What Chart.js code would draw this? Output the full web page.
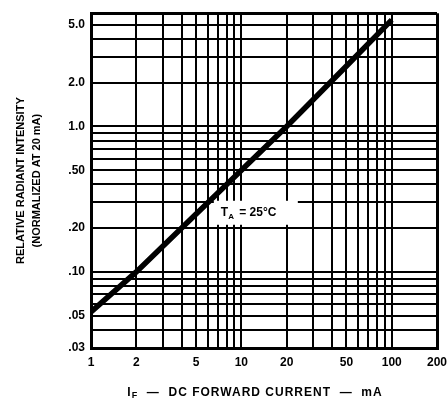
<!DOCTYPE html>
<html>
<head>
<meta charset="utf-8">
<script src="https://cdn.jsdelivr.net/npm/chart.js@4.4.1/dist/chart.umd.min.js"></script>
<style>
  html, body { margin: 0; padding: 0; background: #fff; }
  #wrap { width: 447px; height: 410px; }
</style>
</head>
<body>
<div id="wrap"><canvas id="chart" width="447" height="410"></canvas></div>
<script>
// data
const currentMA = [1, 2, 5, 10, 20, 50, 100];
const intensity = [0.053, 0.1, 0.25, 0.5, 1.0, 2.6, 5.4];

// tick labels and grid lines
const xLabelVals = [1, 2, 5, 10, 20, 50, 100, 200];
const yLabelVals = [0.03, 0.05, 0.1, 0.2, 0.5, 1, 2, 5];
const yLabelText = [".03", ".05", ".10", ".20", ".50", "1.0", "2.0", "5.0"];
const xGrid = [1, 2, 3, 4, 5, 6, 7, 8, 9, 10, 20, 30, 40, 50, 60, 70, 80, 90, 100, 200];
const yGrid = [0.03, 0.04, 0.05, 0.06, 0.07, 0.08, 0.09, 0.1, 0.2, 0.3, 0.4, 0.5, 0.6, 0.7, 0.8, 0.9, 1, 2, 3, 4, 5, 6];

const FONT = "'Liberation Sans', Arial, sans-serif";

const bgPlugin = {
  id: "bg",
  beforeDraw(chart) {
    const c = chart.ctx;
    c.save();
    c.fillStyle = "#fff";
    c.fillRect(0, 0, chart.width, chart.height);
    c.restore();
  },
};

const textPlugin = {
  id: "texts",
  afterDatasetsDraw(chart) {
    const c = chart.ctx;
    const xs = chart.scales.x, ys = chart.scales.y;
    c.save();
    // annotation box
    const ax = xs.getPixelForValue(7.3), ay = ys.getPixelForValue(0.255);
    c.fillStyle = "#fff";
    c.fillRect(ax - 7, ay - 12, 84, 24);
    c.fillStyle = "#000";
    c.textBaseline = "middle";
    c.font = "bold 12px " + FONT;
    c.fillText("T", ax, ay);
    let w = c.measureText("T").width;
    c.font = "bold 8px " + FONT;
    c.fillText("A", ax + w, ay + 4);
    w += c.measureText("A").width + 2;
    c.font = "bold 12px " + FONT;
    c.fillText(" = 25°C", ax + w, ay);

    // x axis title with subscript
    const ty = 393;
    c.letterSpacing = "1px";
    c.font = "bold 12px " + FONT;
    const rest = "  —  DC FORWARD CURRENT  —  mA";
    const wI = c.measureText("I").width;
    c.font = "bold 9px " + FONT;
    const wF = c.measureText("F").width;
    c.font = "bold 12px " + FONT;
    const wRest = c.measureText(rest).width;
    let x0 = 255 - (wI + wF + wRest) / 2;
    c.textAlign = "left";
    c.fillText("I", x0, ty);
    c.font = "bold 9px " + FONT;
    c.fillText("F", x0 + wI, ty + 3);
    c.font = "bold 12px " + FONT;
    c.fillText(rest, x0 + wI + wF, ty);
    c.restore();
  },
};

const edgeWidth = (ctx, lo, hi) => {
  const v = ctx.tick && ctx.tick.value;
  return v === lo || v === hi ? 3 : 2;
};

new Chart(document.getElementById("chart"), {
  type: "line",
  data: {
    datasets: [
      {
        data: currentMA.map((x, i) => ({ x, y: intensity[i] })),
        borderColor: "#000",
        borderWidth: 5.5,
        pointRadius: 0,
        fill: false,
        tension: 0,
      },
    ],
  },
  options: {
    responsive: false,
    animation: false,
    layout: { padding: { top: 8, right: 0, bottom: 30, left: 13 } },
    plugins: { legend: { display: false }, tooltip: { enabled: false } },
    scales: {
      x: {
        type: "logarithmic",
        min: 1,
        max: 200,
        afterBuildTicks: (s) => { s.ticks = xGrid.map((v) => ({ value: v })); },
        afterFit: (s) => { s.height = 32; s.paddingRight = 10; },
        ticks: {
          autoSkip: false,
          maxRotation: 0,
          padding: 7,
          color: "#000",
          font: { family: FONT, size: 12, weight: "bold" },
          callback: (v) => (xLabelVals.includes(v) ? String(v) : ""),
        },
        grid: {
          color: "#000",
          lineWidth: (ctx) => edgeWidth(ctx, 1, 200),
          drawTicks: false,
        },
        border: { display: true, color: "#000", width: 3 },
      },
      y: {
        type: "logarithmic",
        min: 0.03,
        max: 6,
        afterBuildTicks: (s) => { s.ticks = yGrid.map((v) => ({ value: v })); },
        afterFit: (s) => { s.width = 78; },
        ticks: {
          autoSkip: false,
          padding: 6,
          color: "#000",
          font: { family: FONT, size: 12, weight: "bold" },
          callback: (v) => {
            const i = yLabelVals.findIndex((t) => Math.abs(t - v) < 1e-9);
            return i >= 0 ? yLabelText[i] : "";
          },
        },
        grid: {
          color: "#000",
          lineWidth: (ctx) => edgeWidth(ctx, 0.03, 6),
          drawTicks: false,
        },
        border: { display: true, color: "#000", width: 3 },
        title: {
          display: true,
          text: ["RELATIVE RADIANT INTENSITY", "(NORMALIZED AT 20 mA)"],
          color: "#000",
          font: { family: FONT, size: 11, weight: "bold", lineHeight: 1.45 },
          padding: { top: 0, bottom: 18 },
        },
      },
    },
  },
  plugins: [bgPlugin, textPlugin],
});
</script>
</body>
</html>
